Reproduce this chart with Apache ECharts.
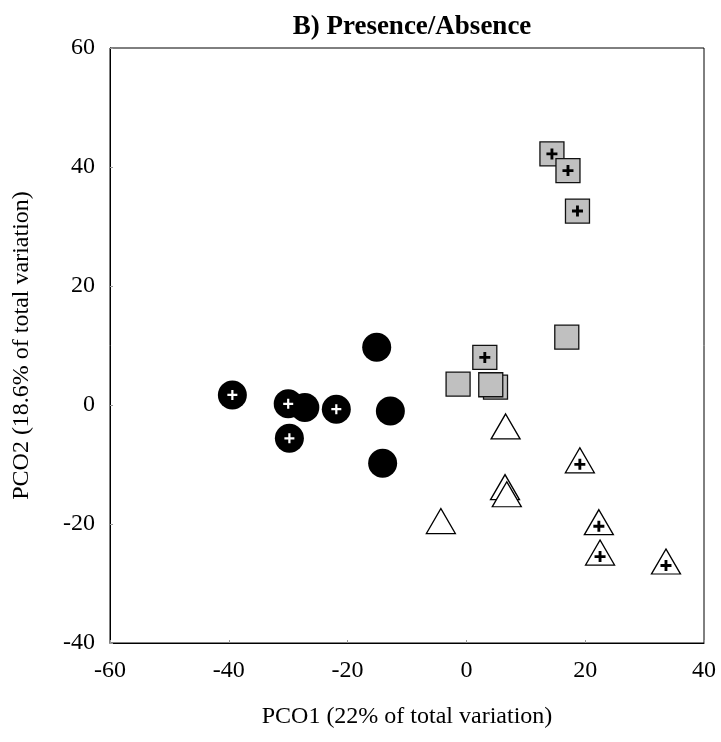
<!DOCTYPE html>
<html>
<head>
<meta charset="utf-8">
<title>PCO - Presence/Absence</title>
<script src="https://cdn.jsdelivr.net/npm/echarts@6/dist/echarts.min.js"></script>
<style>
  html, body { margin: 0; padding: 0; background: #fff; }
  #chart { width: 721px; height: 742px; }
</style>
</head>
<body>
<div id="chart"></div>
<script>
// PCO scores [PCO1, PCO2]
var circlesPlus = [[-39.4, 1.7], [-30.0, 0.2], [-29.8, -5.6], [-21.9, -0.7]];
var circlesPlain = [[-27.2, -0.4], [-15.1, 9.7], [-12.8, -1.0], [-14.1, -9.8]];
var squaresPlus = [[14.4, 42.2], [17.1, 39.4], [18.7, 32.6], [3.1, 8.0]];
var squaresPlain = [[16.9, 11.4], [-1.4, 3.5], [4.9, 3.0], [4.1, 3.4]];
var trianglesPlus = [[19.1, -9.3], [22.3, -19.7], [22.5, -24.8], [33.6, -26.3]];
var trianglesPlain = [[6.6, -3.6], [6.5, -13.8], [6.8, -15.0], [-4.3, -19.5]];

var xTicks = [-60, -40, -20, 0, 20, 40];
var yTicks = [-40, -20, 0, 20, 40, 60];

var serif = 'Liberation Serif';
var plus = 'path://M3.9,0H6.1V3.9H10V6.1H6.1V10H3.9V6.1H0V3.9H3.9Z';
var plusBold = 'path://M3.7,0H6.3V3.7H10V6.3H6.3V10H3.7V6.3H0V3.7H3.7Z';

var chart = echarts.init(document.getElementById('chart'));

var option = {
    animation: false,
    backgroundColor: '#fff',
    title: {
        text: 'B) Presence/Absence',
        left: 407,
        top: 9,
        textAlign: 'center',
        textStyle: { fontFamily: serif, fontWeight: 'bold', fontSize: 27, color: '#000' }
    },
    grid: {
        left: 110, right: 17, top: 48, bottom: 99,
        show: true, borderColor: '#000', borderWidth: 1
    },
    xAxis: {
        type: 'value',
        min: xTicks[0], max: xTicks[xTicks.length - 1], interval: 20,
        name: 'PCO1 (22% of total variation)',
        nameLocation: 'middle',
        nameGap: 62,
        nameTextStyle: { fontFamily: serif, fontSize: 24, color: '#000' },
        axisLine: { show: true, onZero: false, lineStyle: { color: '#000', width: 1 } },
        axisTick: { show: true, inside: true, length: 3, lineStyle: { color: '#999' } },
        axisLabel: { margin: 16, fontFamily: serif, fontSize: 24, color: '#000' },
        splitLine: { show: false }
    },
    yAxis: {
        type: 'value',
        min: yTicks[0], max: yTicks[yTicks.length - 1], interval: 20,
        name: 'PCO2 (18.6% of total variation)',
        nameLocation: 'middle',
        nameGap: 76,
        nameTextStyle: { fontFamily: serif, fontSize: 24, color: '#000' },
        axisLine: { show: true, onZero: false, lineStyle: { color: '#000', width: 1 } },
        axisTick: { show: true, inside: true, length: 3, lineStyle: { color: '#999' } },
        axisLabel: { margin: 15, fontFamily: serif, fontSize: 24, color: '#000' },
        splitLine: { show: false }
    },
    series: [
        {
            type: 'scatter', symbol: 'circle', symbolSize: 29,
            itemStyle: { color: '#000', opacity: 1 },
            data: circlesPlus
        },
        {
            type: 'scatter', symbol: 'circle', symbolSize: 29,
            itemStyle: { color: '#000', opacity: 1 },
            data: circlesPlain
        },
        {
            type: 'scatter', symbol: 'rect', symbolSize: 24,
            itemStyle: { color: '#c0c0c0', borderColor: '#111', borderWidth: 1.3, opacity: 1 },
            data: squaresPlain
        },
        {
            type: 'scatter', symbol: 'rect', symbolSize: 24,
            itemStyle: { color: '#c0c0c0', borderColor: '#111', borderWidth: 1.3, opacity: 1 },
            data: squaresPlus
        },
        {
            type: 'scatter', symbol: 'triangle', symbolSize: [29, 25],
            itemStyle: { color: '#fff', borderColor: '#000', borderWidth: 1.3, opacity: 1 },
            data: trianglesPlain
        },
        {
            type: 'scatter', symbol: 'triangle', symbolSize: [29, 25],
            itemStyle: { color: '#fff', borderColor: '#000', borderWidth: 1.3, opacity: 1 },
            data: trianglesPlus
        },
        // the "+" marks on top
        {
            type: 'scatter', symbol: plus, symbolSize: 10,
            itemStyle: { color: '#fff', opacity: 1 },
            data: circlesPlus
        },
        {
            type: 'scatter', symbol: plusBold, symbolSize: 11,
            itemStyle: { color: '#000', opacity: 1 },
            data: squaresPlus
        },
        {
            type: 'scatter', symbol: plusBold, symbolSize: 11, symbolOffset: [0, 4],
            itemStyle: { color: '#000', opacity: 1 },
            data: trianglesPlus
        }
    ]
};

chart.setOption(option);
</script>
</body>
</html>
